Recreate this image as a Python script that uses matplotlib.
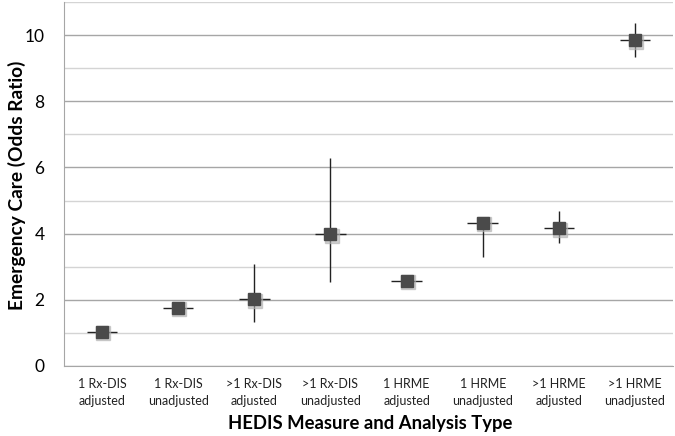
import numpy as np
import matplotlib.pyplot as plt
from matplotlib.ticker import MultipleLocator

# data
labels = ['1 Rx-DIS\nadjusted', '1 Rx-DIS\nunadjusted', '>1 Rx-DIS\nadjusted', '>1 Rx-DIS\nunadjusted',
          '1 HRME\nadjusted', '1 HRME\nunadjusted', '>1 HRME\nadjusted', '>1 HRME\nunadjusted']
odds = [1.04, 1.76, 2.01, 3.98, 2.58, 4.33, 4.16, 9.85]
lower = [1.00, 1.72, 1.34, 2.53, 2.52, 3.30, 3.71, 9.34]
upper = [1.08, 1.80, 3.07, 6.30, 2.64, 4.36, 4.69, 10.38]

plt.rcParams['font.family'] = ['Lato', 'DejaVu Sans']

fig = plt.figure(figsize=(6.75, 4.36), dpi=100)
ax = fig.add_axes([64 / 675, 1 - 366 / 436, 609 / 675, 364 / 436])

x = np.arange(len(odds)) + 0.5
odds = np.array(odds)
yerr = [odds - np.array(lower), np.array(upper) - odds]

ax.errorbar(x, odds, yerr=yerr, xerr=0.2, fmt='none', ecolor='#222222', elinewidth=1.0, capsize=0, zorder=3)
# soft shadow then marker
ax.plot(x + 0.015, odds - 0.05, 's', color='#b0b0b0', markersize=9.5, alpha=0.6, zorder=3.5, linestyle='none')
ax.plot(x, odds, 's', color='#4a4a4a', markersize=9, zorder=4, linestyle='none')

ax.set_xlim(0, 8)
ax.set_ylim(0, 11)
ax.yaxis.set_major_locator(MultipleLocator(2))
ax.yaxis.set_minor_locator(MultipleLocator(1))
ax.grid(axis='y', which='major', color='#a6a6a6', linewidth=1.0)
ax.grid(axis='y', which='minor', color='#d4d4d4', linewidth=1.0)
ax.set_axisbelow(True)

ax.set_xticks(x)
ax.set_xticklabels(labels, fontsize=9, color='#222222', linespacing=1.45)
ax.tick_params(axis='x', length=0, pad=9)
ax.tick_params(axis='y', which='both', length=0, labelsize=12.5, pad=14)

for side in ['top', 'right']:
    ax.spines[side].set_visible(False)
ax.spines['bottom'].set_color('#a6a6a6')
ax.spines['left'].set_color('#a6a6a6')

# axis titles placed by figure pixels
fig.text(370 / 675, 1 - 423 / 436, 'HEDIS Measure and Analysis Type', fontsize=13.3,
         fontweight='bold', ha='center', va='center')
fig.text(17 / 675, 1 - 185 / 436, 'Emergency Care (Odds Ratio)', fontsize=13.8,
         fontweight='bold', ha='center', va='center', rotation=90)

fig.savefig('out.png', dpi=100)
